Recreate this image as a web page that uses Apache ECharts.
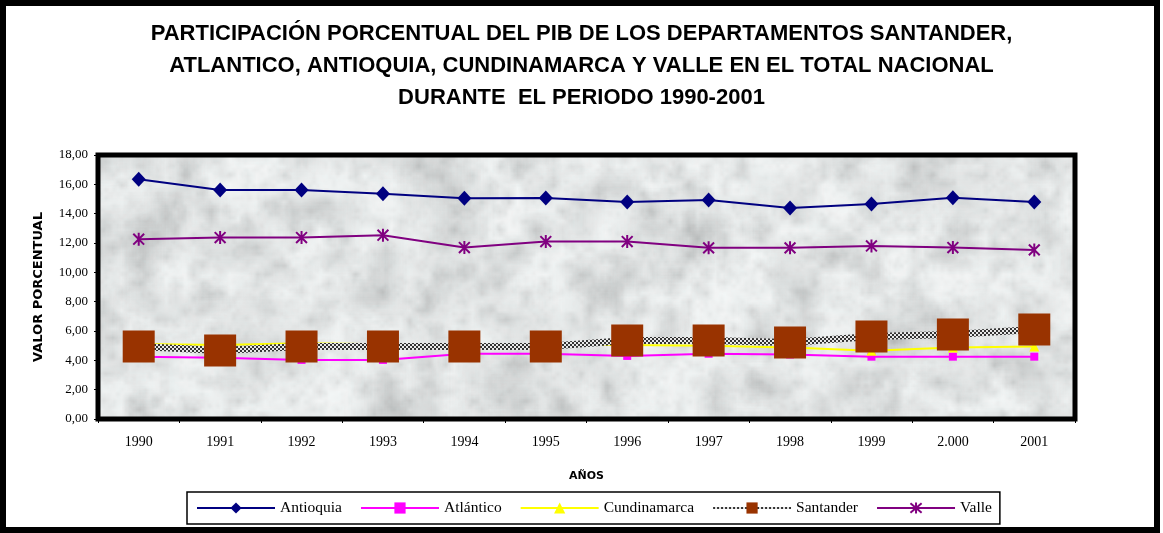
<!DOCTYPE html>
<html>
<head>
<meta charset="utf-8">
<script src="https://cdn.jsdelivr.net/npm/echarts@6/dist/echarts.min.js"></script>
<style>
  html, body { margin: 0; padding: 0; background: #fff; }
  #chart { width: 1163px; height: 533px; }
</style>
</head>
<body>
<div id="chart"></div>
<script>
// values (% of national GDP)
const years = ["1990", "1991", "1992", "1993", "1994", "1995", "1996", "1997", "1998", "1999", "2.000", "2001"];
const antioquia = [16.34, 15.61, 15.61, 15.36, 15.05, 15.07, 14.80, 14.93, 14.39, 14.66, 15.09, 14.80];
const atlantico = [4.25, 4.18, 4.03, 4.03, 4.45, 4.45, 4.30, 4.45, 4.40, 4.25, 4.25, 4.25];
const cundinamarca = [5.12, 5.05, 5.16, 5.10, 5.05, 5.05, 5.05, 5.00, 4.88, 4.65, 4.88, 4.95];
const santander = [4.95, 4.67, 4.95, 4.95, 4.95, 4.95, 5.35, 5.35, 5.22, 5.63, 5.76, 6.10];
const valle = [12.26, 12.37, 12.37, 12.53, 11.69, 12.10, 12.10, 11.67, 11.67, 11.80, 11.69, 11.53];
const yTicks = [0, 2, 4, 6, 8, 10, 12, 14, 16, 18];

const W = 1163, H = 533;

// grey marble-ish texture for the plot area (style only)
function hash(i, j, s) {
  const n = Math.sin(i * 127.1 + j * 311.7 + s * 74.7) * 43758.5453;
  return n - Math.floor(n);
}
function makeMarble() {
  const c = document.createElement("canvas");
  c.width = W; c.height = H;
  const ctx = c.getContext("2d");
  ctx.fillStyle = "#eceeee";
  ctx.fillRect(0, 0, W, H);
  const layers = [[52, 1, 0.5], [22, 2, 0.38], [9, 3, 0.2], [4, 4, 0.07]];
  layers.forEach(([cell, seed, alpha]) => {
    const sw = Math.ceil(W / cell) + 2, sh = Math.ceil(H / cell) + 2;
    const small = document.createElement("canvas");
    small.width = sw; small.height = sh;
    const sctx = small.getContext("2d");
    const img = sctx.createImageData(sw, sh);
    for (let j = 0; j < sh; j++) {
      for (let i = 0; i < sw; i++) {
        let v = hash(i, j, seed);
        v = 252 - Math.pow(v, 3.2) * 115;
        const k = (j * sw + i) * 4;
        img.data[k] = v - 5; img.data[k + 1] = v - 2; img.data[k + 2] = v - 2; img.data[k + 3] = 255;
      }
    }
    sctx.putImageData(img, 0, 0);
    ctx.globalAlpha = alpha;
    ctx.imageSmoothingEnabled = true;
    ctx.drawImage(small, 0, 0, sw, sh, -cell, -cell, sw * cell, sh * cell);
  });
  ctx.globalAlpha = 1;
  return c;
}

// checkered stroke for Santander
function makeChecker() {
  const c = document.createElement("canvas");
  c.width = 4; c.height = 4;
  const ctx = c.getContext("2d");
  ctx.fillStyle = "#333";
  ctx.fillRect(0, 0, 4, 4);
  ctx.fillStyle = "#e8e8e8";
  ctx.fillRect(0, 0, 2, 2);
  ctx.fillRect(2, 2, 2, 2);
  return c;
}

const marble = makeMarble();
const checker = makeChecker();
const serif = "Liberation Serif";

const chart = echarts.init(document.getElementById("chart"), null, { renderer: "canvas" });
chart.setOption({
  backgroundColor: "#fff",
  animation: false,
  title: {
    text: "PARTICIPACIÓN PORCENTUAL DEL PIB DE LOS DEPARTAMENTOS SANTANDER,\nATLANTICO, ANTIOQUIA, CUNDINAMARCA Y VALLE EN EL TOTAL NACIONAL\nDURANTE  EL PERIODO 1990-2001",
    left: "center",
    top: 18,
    padding: 0,
    textStyle: {
      fontFamily: "Liberation Sans",
      fontWeight: "bold",
      fontSize: 22,
      lineHeight: 32,
      color: "#000"
    }
  },
  grid: {
    left: 98,
    right: W - 1075,
    top: 155,
    bottom: H - 419,
    show: true,
    backgroundColor: { image: marble, repeat: "repeat" },
    borderColor: "#000",
    borderWidth: 5
  },
  legend: {
    left: 187,
    top: 492,
    padding: [8, 8, 8, 9],
    itemGap: 18,
    itemWidth: 78,
    itemHeight: 14,
    backgroundColor: "#fff",
    borderColor: "#000",
    borderWidth: 1.5,
    textStyle: { fontFamily: serif, fontSize: 15.5, color: "#000" },
    data: ["Antioquia", "Atlántico", "Cundinamarca", "Santander", "Valle"]
  },
  xAxis: {
    type: "category",
    data: years,
    name: "AÑOS",
    nameLocation: "middle",
    nameGap: 52,
    nameTextStyle: { fontFamily: "DejaVu Sans", fontWeight: "bold", fontSize: 11, color: "#000" },
    axisLine: { lineStyle: { color: "#000", width: 1 } },
    axisTick: { show: true, length: 4, lineStyle: { color: "#000" } },
    axisLabel: { margin: 16, fontFamily: serif, fontSize: 14, color: "#000" },
    splitLine: { show: false }
  },
  yAxis: {
    type: "value",
    min: yTicks[0],
    max: yTicks[yTicks.length - 1],
    interval: 2,
    name: "VALOR PORCENTUAL",
    nameLocation: "middle",
    nameGap: 53,
    nameRotate: 90,
    nameTextStyle: { fontFamily: "DejaVu Sans", fontWeight: 900, fontSize: 13, color: "#000" },
    axisLine: { show: true, lineStyle: { color: "#000", width: 1 } },
    axisTick: { show: true, length: 4, lineStyle: { color: "#000" } },
    axisLabel: {
      margin: 10,
      fontFamily: serif,
      fontSize: 13,
      color: "#000",
      formatter: v => v.toFixed(2).replace(".", ",")
    },
    splitLine: { show: false }
  },
  series: [
    {
      name: "Antioquia",
      type: "line",
      data: antioquia,
      symbol: "diamond",
      symbolSize: [14, 15],
      lineStyle: { color: "#000080", width: 2 },
      itemStyle: { color: "#000080" }
    },
    {
      name: "Atlántico",
      type: "line",
      data: atlantico,
      symbol: "rect",
      symbolSize: 8,
      lineStyle: { color: "#ff00ff", width: 2 },
      itemStyle: { color: "#ff00ff" }
    },
    {
      name: "Cundinamarca",
      type: "line",
      data: cundinamarca,
      symbol: "triangle",
      symbolSize: 10,
      lineStyle: { color: "#ffff00", width: 2 },
      itemStyle: { color: "#ffff00" }
    },
    {
      name: "Santander",
      type: "line",
      data: santander,
      symbol: "rect",
      symbolSize: 32,
      lineStyle: { color: { image: checker, repeat: "repeat" }, width: 7 },
      itemStyle: { color: "#993300" }
    },
    {
      name: "Valle",
      type: "line",
      data: valle,
      symbol: "path://M0,0 L10,10 M10,0 L0,10 M5,-1 L5,11",
      symbolSize: 13,
      symbolKeepAspect: true,
      lineStyle: { color: "#800080", width: 2 },
      itemStyle: { color: "#800080", borderColor: "#800080", borderWidth: 2 }
    }
  ],
  graphic: [
    {
      type: "rect",
      silent: true,
      z: 100,
      shape: { x: 3, y: 3, width: 1154, height: 527 },
      style: { fill: null, stroke: "#000", lineWidth: 6 }
    }
  ]
});
</script>
</body>
</html>
